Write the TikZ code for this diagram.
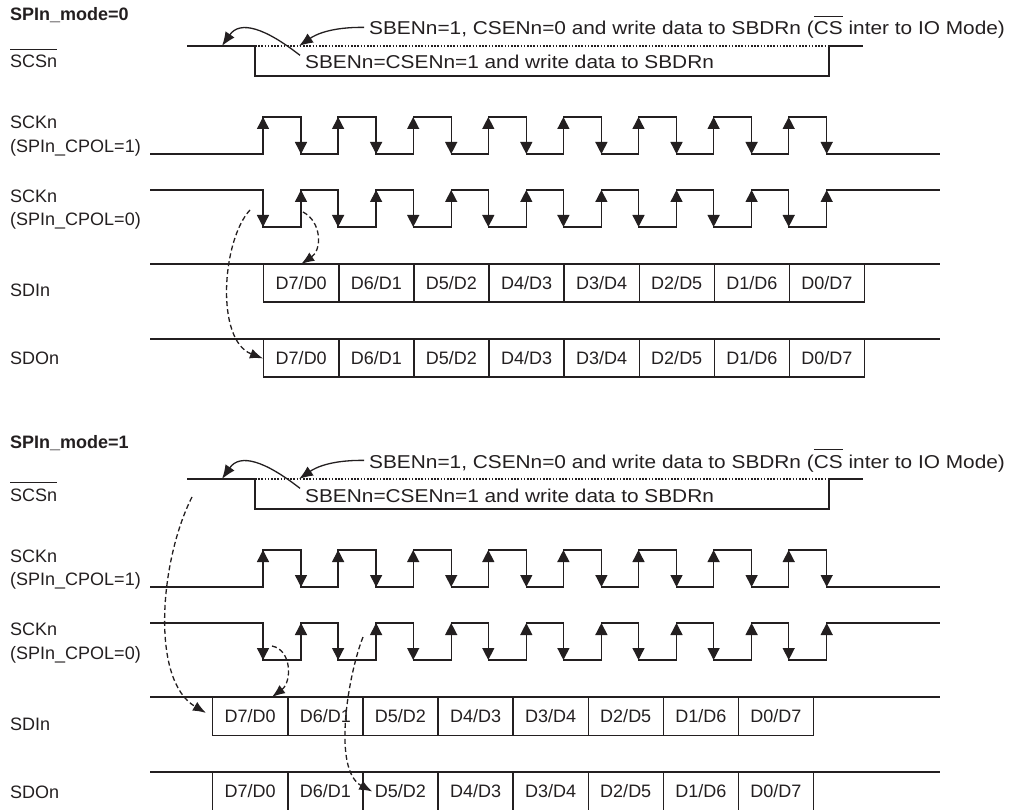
\documentclass[tikz,border=0pt]{standalone}
\usepackage{fontspec}
\setmainfont{Liberation Sans}
\newfontfamily\annfont[FakeStretch=1.12]{Liberation Sans}
\usetikzlibrary{arrows.meta, positioning, calc}

\definecolor{ink}{RGB}{35,31,32}
% bar over a word (active low signals)
\newcommand{\ovl}[1]{{\setbox0\hbox{#1}\rlap{\rule[\dimexpr\ht0+5pt\relax]{\wd0}{1.1pt}}\box0}}

\tikzset{
  wire/.style={draw=ink, line width=1.4pt},
  csdot/.style={draw=ink, line width=1.2pt, dash pattern=on 1.6pt off 1.6pt},
  clktip/.style={draw=ink, line width=1.4pt, -{Triangle[length=12pt,width=12pt]}},
  databox/.style={draw=ink, line width=1.4pt, minimum width=75.1pt, minimum height=37.5pt,
    inner sep=0pt, anchor=north west, font=\fontsize{18}{20}\selectfont},
  sig/.style={anchor=base west, inner sep=0pt, align=left, font=\fontsize{18}{23.5}\selectfont},
  note/.style={anchor=base west, inner xsep=5pt, inner ysep=0pt, font=\annfont\fontsize{18.6}{22}\selectfont},
  notearrow/.style={draw=ink, line width=1.3pt, -{Latex[length=14pt,width=11pt]}},
  dasharrow/.style={draw=ink, line width=1.3pt, dash pattern=on 5pt off 3pt, -{Latex[length=13pt,width=10pt]}},
}

\begin{document}
\begin{tikzpicture}[x=1pt, y=-1pt, color=ink, line join=miter]
  \useasboundingbox (0,0) rectangle (1010,810);

  \foreach \m/\yo/\xd/\tb in {0/0/263/20.5, 1/433/212/15} {
  \begin{scope}[shift={(0,\yo)}]
    % signal names
    \node[sig, font=\bfseries\fontsize{18}{20}\selectfont] (mode\m) at (10,\tb) {SPIn\_mode=\m};
    \node[sig] (lcs\m) at (10,68) {\ovl{SCSn}};
    \node[sig] (lcka\m) at (10,152.5) {SCKn\\(SPIn\_CPOL=1)};
    \node[sig] (lckb\m) at (10,226) {SCKn\\(SPIn\_CPOL=0)};
    \node[sig] (lsdi\m) at (10,297) {SDIn};
    \node[sig] (lsdo\m) at (10,365) {SDOn};

    % chip select
    \draw[wire] (187,46) -- (255,46) -- (255,76) -- (829,76) -- (829,46) -- (863,46);
    \draw[csdot] (255,46) -- (829,46);
    \node[note] (setio\m) at (364,35) {SBENn=1, CSENn=0 and write data to SBDRn (\ovl{CS} inter to IO Mode)};
    \node[note] (setcs\m) at (300,69) {SBENn=CSENn=1 and write data to SBDRn};
    \draw[notearrow] (setio\m.west) .. controls (330,27) and (315,35) .. (299,46);
    \draw[notearrow] (setcs\m.north west) .. controls (265,28) and (240,20) .. (222,46);

    % clock, CPOL=1
    \draw[wire] (150,154) foreach \k in {0,...,7} { -- (263+75.1*\k,154) -- (263+75.1*\k,117)
      -- (301+75.1*\k,117) -- (301+75.1*\k,154) } -- (940,154);
    % clock, CPOL=0
    \draw[wire] (150,190) foreach \k in {0,...,7} { -- (263+75.1*\k,190) -- (263+75.1*\k,227)
      -- (301+75.1*\k,227) -- (301+75.1*\k,190) } -- (940,190);
    \foreach \k in {0,...,7} {
      \draw[clktip] (263+75.1*\k,154) -- (263+75.1*\k,117);
      \draw[clktip] (301+75.1*\k,117) -- (301+75.1*\k,154);
      \draw[clktip] (263+75.1*\k,190) -- (263+75.1*\k,227);
      \draw[clktip] (301+75.1*\k,227) -- (301+75.1*\k,190);
    }

    % data lines
    \draw[wire] (150,264) -- (940,264);
    \draw[wire] (150,339) -- (940,339);
    \foreach \a/\b [count=\k from 0] in {7/0,6/1,5/2,4/3,3/4,2/5,1/6,0/7} {
      \node[databox] (sdi\m\k) at (\xd+75.1*\k,264) {D\a/D\b};
      \node[databox] (sdo\m\k) at (\xd+75.1*\k,339) {D\a/D\b};
    }
  \end{scope}
  }

  % sampling / shifting hints, mode 0
  \coordinate (rise0) at (303,212);
  \coordinate (fall0) at (250,210);
  \draw[dasharrow] (rise0) .. controls (322,222) and (322,250) .. (sdi00.north);
  \draw[dasharrow] (fall0) .. controls (222,240) and (215,340) .. (sdo00.west);

  % mode 1
  \coordinate (csup1) at (192,497);
  \coordinate (fall1) at (272,646);
  \coordinate (fall1b) at (363,637);
  \draw[dasharrow, shorten >=7pt] (csup1) .. controls (160,560) and (150,680) .. (sdi10.west);
  \draw[dasharrow] (fall1) .. controls (292,650) and (292,682) .. (fall1 |- sdi10.north);
  \draw[dasharrow] (fall1b) .. controls (348,675) and (332,770) .. ($(sdo12.west)+(10,0)$);
\end{tikzpicture}
\end{document}
